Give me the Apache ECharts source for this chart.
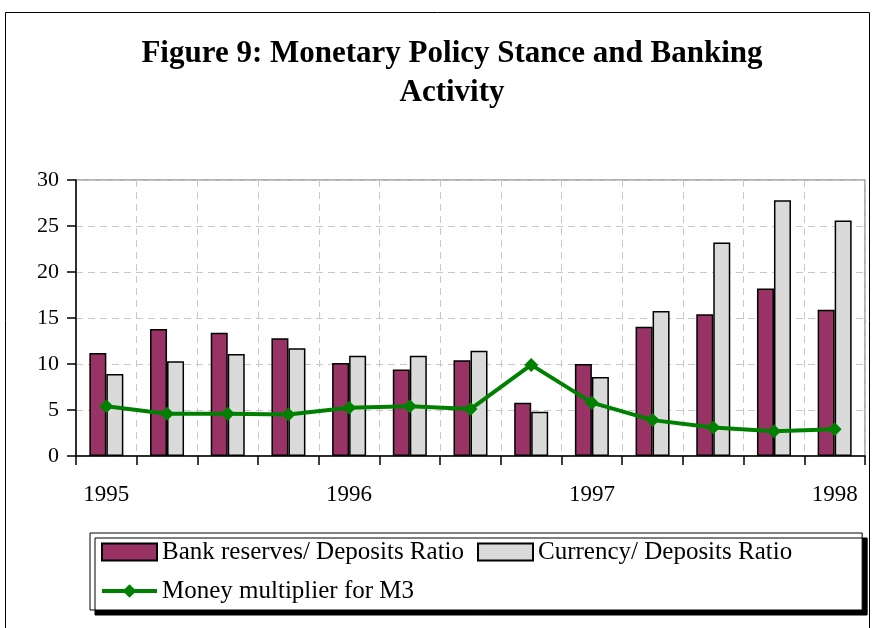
<!DOCTYPE html>
<html>
<head>
<meta charset="utf-8">
<script src="https://cdn.jsdelivr.net/npm/echarts@6/dist/echarts.min.js"></script>
<style>
  html, body { margin: 0; padding: 0; background: #fff; }
  #chart { width: 874px; height: 628px; }
</style>
</head>
<body>
<div id="chart"></div>
<script>
const quarters = [
  '1995 Q1', '1995 Q2', '1995 Q3', '1995 Q4',
  '1996 Q1', '1996 Q2', '1996 Q3', '1996 Q4',
  '1997 Q1', '1997 Q2', '1997 Q3', '1997 Q4',
  '1998 Q1'
]
const reservesRatio = [11.2, 13.8, 13.4, 12.8, 10.1, 9.4, 10.4, 5.8, 10.0, 14.05, 15.4, 18.2, 15.9]
const currencyRatio = [8.9, 10.3, 11.1, 11.7, 10.9, 10.9, 11.45, 4.8, 8.6, 15.75, 23.2, 27.8, 25.6]
const moneyMultiplier = [5.4, 4.6, 4.6, 4.5, 5.25, 5.4, 5.1, 9.9, 5.8, 3.9, 3.1, 2.7, 2.9]

const serif = '"Liberation Serif", "DejaVu Serif", serif'

const chart = echarts.init(document.getElementById('chart'))

chart.setOption({
  animation: false,
  title: {
    text: 'Figure 9: Monetary Policy Stance and Banking\nActivity',
    left: 447,
    textAlign: 'center',
    top: 29,
    textStyle: {
      fontFamily: serif,
      fontWeight: 'bold',
      fontSize: 31,
      lineHeight: 39,
      color: '#000',
    },
  },
  graphic: [
    {
      type: 'rect',
      shape: { x: 5.5, y: 12.5, width: 864, height: 640 },
      style: { fill: 'none', stroke: '#000', lineWidth: 1 },
      silent: true,
    },
  ],
  legend: {
    left: 90,
    top: 533,
    width: 770,
    orient: 'horizontal',
    padding: [6, 70, 6, 10],
    itemGap: 13,
    itemWidth: 55,
    itemHeight: 17,
    backgroundColor: '#fff',
    borderColor: '#000',
    borderWidth: 1,
    shadowColor: '#000',
    shadowOffsetX: 5,
    shadowOffsetY: 5,
    shadowBlur: 0,
    textStyle: { fontFamily: serif, fontSize: 25, lineHeight: 26, color: '#000' },
    data: [
      { name: 'Bank reserves/ Deposits Ratio', icon: 'rect' },
      { name: 'Currency/ Deposits Ratio', icon: 'rect' },
      { name: 'Money multiplier for M3', lineStyle: { width: 4 } },
    ],
  },
  grid: {
    left: 76,
    right: 9,
    top: 180,
    bottom: 172,
    show: true,
    borderColor: '#999',
    borderWidth: 1.5,
  },
  xAxis: {
    type: 'category',
    data: quarters,
    boundaryGap: true,
    axisLine: { lineStyle: { color: '#000', width: 1.5 } },
    axisTick: { show: true, interval: 0, length: 9, lineStyle: { color: '#000', width: 1.5 } },
    axisLabel: {
      interval: 3,
      margin: 27,
      fontFamily: serif,
      fontSize: 23,
      color: '#000',
      formatter: (v) => v.slice(0, 4),
    },
    splitLine: {
      show: true,
      interval: 0,
      lineStyle: { color: '#c8c8c8', type: [7, 5], width: 1 },
    },
  },
  yAxis: {
    type: 'value',
    min: 0,
    max: 30,
    interval: 5,
    axisLine: { show: true, lineStyle: { color: '#000', width: 1.5 } },
    axisTick: { show: true, length: 9, lineStyle: { color: '#000', width: 1.5 } },
    axisLabel: { margin: 17, fontFamily: serif, fontSize: 22, color: '#000' },
    splitLine: {
      show: true,
      lineStyle: { color: '#c8c8c8', type: [7, 5], width: 1 },
    },
  },
  series: [
    {
      name: 'Bank reserves/ Deposits Ratio',
      type: 'bar',
      data: reservesRatio,
      barWidth: 17,
      barGap: '0%',
      itemStyle: { color: '#993366', borderColor: '#000', borderWidth: 1.5 },
      z: 2,
    },
    {
      name: 'Currency/ Deposits Ratio',
      type: 'bar',
      data: currencyRatio,
      barWidth: 17,
      barGap: '0%',
      itemStyle: { color: '#dadada', borderColor: '#000', borderWidth: 1.5 },
      z: 2,
    },
    {
      name: 'Money multiplier for M3',
      type: 'line',
      data: moneyMultiplier,
      symbol: 'diamond',
      symbolSize: 14,
      lineStyle: { color: '#008000', width: 4 },
      itemStyle: { color: '#008000' },
      z: 5,
    },
  ],
})
</script>
</body>
</html>
